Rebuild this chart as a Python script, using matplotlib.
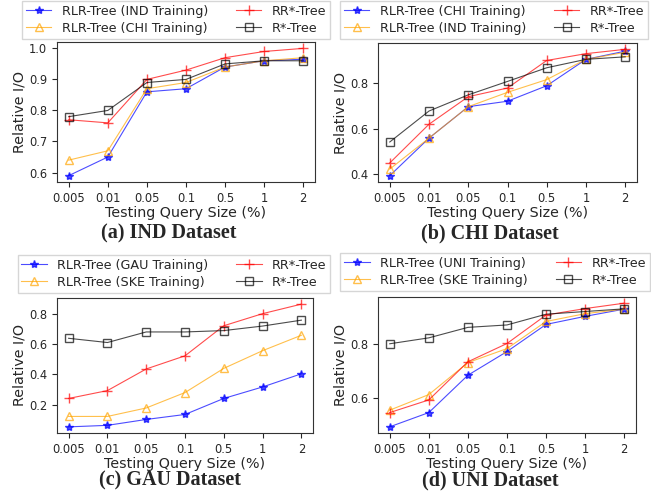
import matplotlib
matplotlib.use("Agg")
import matplotlib.pyplot as plt

sizes = ["0.005", "0.01", "0.05", "0.1", "0.5", "1", "2"]

# (a) IND dataset
ind_rlr_ind = [0.59, 0.65, 0.86, 0.87, 0.94, 0.96, 0.965]
ind_rlr_chi = [0.64, 0.67, 0.87, 0.89, 0.94, 0.96, 0.97]
ind_rrstar = [0.77, 0.76, 0.90, 0.93, 0.97, 0.99, 1.00]
ind_rstar = [0.78, 0.80, 0.89, 0.90, 0.95, 0.96, 0.96]

# (b) CHI dataset
chi_rlr_chi = [0.393, 0.558, 0.696, 0.72, 0.788, 0.904, 0.94]
chi_rlr_ind = [0.422, 0.558, 0.696, 0.759, 0.815, 0.904, 0.935]
chi_rrstar = [0.449, 0.619, 0.74, 0.778, 0.899, 0.929, 0.948]
chi_rstar = [0.541, 0.677, 0.748, 0.807, 0.867, 0.904, 0.915]

# (c) GAU dataset
gau_rlr_gau = [0.053, 0.063, 0.102, 0.135, 0.241, 0.317, 0.404]
gau_rlr_ske = [0.122, 0.122, 0.178, 0.28, 0.44, 0.557, 0.659]
gau_rrstar = [0.241, 0.293, 0.436, 0.523, 0.722, 0.802, 0.865]
gau_rstar = [0.639, 0.611, 0.681, 0.681, 0.69, 0.72, 0.759]

# (d) UNI dataset
uni_rlr_uni = [0.491, 0.544, 0.683, 0.771, 0.872, 0.902, 0.929]
uni_rlr_ske = [0.553, 0.611, 0.73, 0.782, 0.883, 0.912, 0.929]
uni_rrstar = [0.544, 0.591, 0.733, 0.801, 0.907, 0.931, 0.951]
uni_rstar = [0.80, 0.822, 0.861, 0.87, 0.91, 0.92, 0.93]

panels = [
    dict(rect=(57, 42, 315, 182), s1=ind_rlr_ind, l1="RLR-Tree (IND Training)",
         s2=ind_rlr_chi, l2="RLR-Tree (CHI Training)", rr=ind_rrstar, r=ind_rstar,
         yticks=[0.6, 0.7, 0.8, 0.9, 1.0], legtop=1, legcx=176, cap="(a) IND Dataset", capxy=(169, 233)),
    dict(rect=(378, 43, 637, 182), s1=chi_rlr_chi, l1="RLR-Tree (CHI Training)",
         s2=chi_rlr_ind, l2="RLR-Tree (IND Training)", rr=chi_rrstar, r=chi_rstar,
         yticks=[0.4, 0.6, 0.8], legtop=1, legcx=494, cap="(b) CHI Dataset", capxy=(490, 233)),
    dict(rect=(57, 298, 313, 433), s1=gau_rlr_gau, l1="RLR-Tree (GAU Training)",
         s2=gau_rlr_ske, l2="RLR-Tree (SKE Training)", rr=gau_rrstar, r=gau_rstar,
         yticks=[0.2, 0.4, 0.6, 0.8], legtop=255, legcx=174, cap="(c) GAU Dataset", capxy=(170, 480)),
    dict(rect=(378, 297, 636, 433), s1=uni_rlr_uni, l1="RLR-Tree (UNI Training)",
         s2=uni_rlr_ske, l2="RLR-Tree (SKE Training)", rr=uni_rrstar, r=uni_rstar,
         yticks=[0.6, 0.8], legtop=253, legcx=495, cap="(d) UNI Dataset", capxy=(490, 480)),
]

TXT = "#262626"
plt.rcParams["text.color"] = TXT
plt.rcParams["axes.labelcolor"] = TXT
plt.rcParams["xtick.color"] = TXT
plt.rcParams["ytick.color"] = TXT

W, H = 651, 501
fig = plt.figure(figsize=(W / 100, H / 100), dpi=100)

for p in panels:
    x0, yt, x1, yb = p["rect"]
    ax = fig.add_axes([x0 / W, (H - yb) / H, (x1 - x0) / W, (yb - yt) / H])
    xs = range(len(sizes))
    lw = 0.8
    h1, = ax.plot(xs, p["s1"], color="blue", marker="*", markersize=6, lw=lw, alpha=0.7,
                  markeredgecolor="blue", markerfacecolor="blue")
    h2, = ax.plot(xs, p["s2"], color="orange", marker="^", markersize=6, lw=lw, alpha=0.7,
                  markerfacecolor="none", markeredgecolor="orange")
    h3, = ax.plot(xs, p["rr"], color="red", marker="+", markersize=7, lw=lw, alpha=0.7,
                  markeredgecolor="red")
    h4, = ax.plot(xs, p["r"], color="black", marker="s", markersize=6, lw=lw, alpha=0.7,
                  markerfacecolor="none", markeredgecolor="black")
    ax.set_xticks(list(xs))
    ax.set_xticklabels(sizes)
    ax.set_yticks(p["yticks"])
    ax.tick_params(labelsize=8.3)
    ax.set_xlabel("Testing Query Size (%)", fontsize=10.3, labelpad=1)
    ax.set_ylabel("Relative I/O", fontsize=10.3, labelpad=2)
    for sp in ax.spines.values():
        sp.set_linewidth(0.8)
        sp.set_color("#333333")
    ax.legend([h1, h2, h3, h4], [p["l1"], p["l2"], "RR*-Tree", "R*-Tree"],
              ncol=2, loc="upper center",
              bbox_to_anchor=(p["legcx"] / W, (H - p["legtop"]) / H),
              bbox_transform=fig.transFigure, borderaxespad=0,
              fontsize=9.2, columnspacing=2.2, handlelength=2.0, borderpad=0.3,
              labelspacing=0.3, fancybox=False, edgecolor="#cccccc")
    cx, cy = p["capxy"]
    fig.text(cx / W, (H - cy) / H, p["cap"], ha="center", va="center",
             fontsize=14.5, fontweight="bold", family="Liberation Serif")

fig.savefig("out.png", dpi=100)
